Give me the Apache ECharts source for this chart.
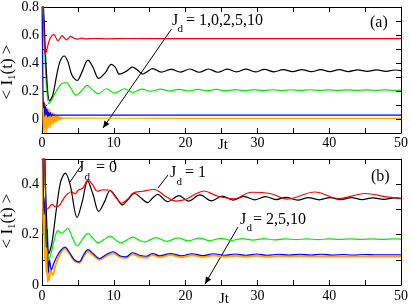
<!DOCTYPE html>
<html><head><meta charset="utf-8">
<script src="https://cdn.jsdelivr.net/npm/echarts@6/dist/echarts.min.js"></script>
<style>html,body{margin:0;padding:0;background:#fff}#c{width:411px;height:306px}</style>
</head><body><div id="c"></div>
<script>
// ---------- data (t = Jt, value = <I1(t)>) ----------
const xTicksLabels = [0, 10, 20, 30, 40, 50];
const aYLabels = [0, 0.2, 0.4, 0.6, 0.8];
const bYLabels = [0, 0.2, 0.4];

// panel (a)
const aRed = [[0,1.0],[0.2,0.75],[0.45,0.46],[0.7,0.5],[1.0,0.56],[1.3,0.59],[1.65,0.602],[1.95,0.58],[2.2,0.557],[2.5,0.575],[2.8,0.595],[3.1,0.58],[3.4,0.565],[3.7,0.578],[4.0,0.59],[4.4,0.578],[4.9,0.57],[5.5,0.577],[6.2,0.572],[7,0.575],[9,0.573],[12,0.575],[20,0.574],[30,0.574],[40,0.574],[50,0.574]];
const aBlack = [[0,1.0],[0.3,0.7],[0.6,0.35],[1.05,0.13],[1.5,0.17],[2.0,0.3],[2.5,0.41],[3.1,0.45],[3.6,0.41],[4.2,0.31],[4.9,0.275],[5.6,0.34],[6.4,0.42],[7.1,0.37],[7.9,0.29],[8.8,0.33],[9.65,0.39],[10.2,0.37],[10.8,0.32],[11.7,0.34],[12.6,0.37],[13.3,0.35],[14.0,0.32],[14.7,0.34],[15.4,0.36],[16.6,0.335],[18,0.355],[19.3,0.335],[20.6,0.357],[21.9,0.334],[23.2,0.357],[24.5,0.334],[25.8,0.356],[27.1,0.336],[28.4,0.356],[29.7,0.336],[31,0.354],[32.3,0.337],[33.6,0.353],[34.9,0.338],[36.2,0.353],[37.5,0.338],[38.8,0.352],[40.1,0.339],[41.4,0.352],[42.7,0.339],[44,0.351],[45.3,0.34],[46.6,0.351],[47.9,0.34],[49.2,0.35],[50,0.345]];
const aGreen = [[0,1.0],[0.3,0.6],[0.6,0.25],[0.97,0.11],[1.4,0.14],[2.0,0.2],[2.7,0.25],[3.4,0.26],[4.0,0.22],[4.75,0.17],[5.5,0.2],[6.3,0.24],[7.0,0.21],[7.85,0.18],[8.96,0.216],[10.1,0.185],[11.5,0.216],[12.65,0.19],[13.9,0.213],[15.2,0.198],[16.5,0.213],[17.8,0.2],[19.1,0.212],[20.4,0.2],[21.7,0.211],[23,0.201],[24.3,0.211],[25.6,0.202],[26.9,0.21],[28.2,0.202],[29.5,0.21],[30.8,0.203],[32.1,0.209],[33.4,0.203],[34.7,0.209],[36,0.204],[37.3,0.209],[38.6,0.204],[39.9,0.208],[41.2,0.204],[42.5,0.208],[43.8,0.205],[45.1,0.208],[46.4,0.205],[47.7,0.208],[49,0.205],[50,0.206]];
const aBlue = [[0,1.0],[0.1,0.4],[0.2,0.08],[0.3,0.12],[0.4,0.02],[0.5,0.09],[0.6,0.03],[0.7,0.07],[0.8,0.015],[0.9,0.05],[1.0,0.02],[1.15,0.045],[1.3,0.02],[1.45,0.035],[1.6,0.025],[1.8,0.03],[2.0,0.027],[2.5,0.028],[10,0.028],[30,0.028],[50,0.028]];
const aOrange = [[0,1.0],[0.05,0.4],[0.1,0.11],[0.2,-0.09],[0.3,0.12],[0.4,-0.1],[0.5,0.11],[0.6,-0.1],[0.7,0.08],[0.8,-0.07],[0.9,0.075],[1.0,-0.065],[1.1,0.07],[1.2,-0.06],[1.3,0.05],[1.4,-0.04],[1.5,0.048],[1.6,-0.035],[1.7,0.04],[1.8,-0.03],[1.9,0.03],[2.0,-0.02],[2.1,0.028],[2.2,-0.015],[2.3,0.022],[2.4,-0.01],[2.5,0.016],[2.6,-0.004],[2.7,0.012],[2.8,0.0],[2.9,0.009],[3.0,0.003],[3.3,0.006],[20,0.005],[50,0.005]];

// panel (b)
const bRed = [[0,1.0],[0.3,0.6],[0.65,0.30],[0.9,0.305],[1.4,0.32],[1.9,0.31],[2.4,0.315],[2.95,0.34],[3.5,0.36],[4.1,0.37],[4.6,0.362],[5.0,0.375],[5.7,0.385],[6.4,0.416],[7.1,0.395],[7.7,0.372],[8.5,0.378],[9.4,0.376],[10.2,0.35],[11.1,0.325],[11.9,0.34],[12.7,0.365],[14.0,0.372],[15.6,0.379],[17.3,0.35],[18.6,0.333],[20.0,0.34],[21.5,0.363],[22.6,0.373],[24.4,0.353],[26.7,0.342],[29.2,0.368],[31.8,0.363],[34.2,0.341],[38.0,0.369],[41.3,0.343],[45.0,0.363],[48,0.35],[50,0.344]];
const bBlack = [[0,1.0],[0.3,0.6],[0.6,0.3],[0.95,0.124],[1.4,0.17],[2.0,0.3],[2.6,0.41],[3.25,0.444],[3.9,0.4],[4.9,0.268],[5.6,0.33],[6.35,0.412],[7.1,0.36],[7.9,0.292],[8.7,0.33],[9.5,0.375],[10.3,0.35],[11.2,0.318],[12.0,0.34],[12.9,0.363],[13.8,0.345],[14.7,0.327],[15.4,0.345],[16.1,0.36],[17.5,0.331],[19.1,0.355],[20.4,0.333],[22.0,0.358],[23.6,0.334],[25.1,0.353],[26.6,0.337],[28.1,0.352],[29.6,0.338],[31.1,0.351],[32.6,0.339],[34.0,0.348],[35.6,0.337],[37.1,0.347],[38.6,0.338],[40.1,0.347],[41.6,0.339],[43.1,0.347],[44.6,0.339],[46.1,0.346],[47.6,0.34],[49.1,0.346],[50,0.343]];
const bGreen = [[0,1.0],[0.3,0.6],[0.6,0.25],[0.95,0.1],[1.3,0.13],[1.8,0.19],[2.2,0.216],[2.7,0.205],[3.6,0.224],[4.2,0.19],[4.9,0.155],[5.6,0.18],[6.4,0.205],[7.1,0.185],[7.8,0.168],[8.6,0.18],[9.5,0.194],[10.3,0.178],[11.0,0.167],[11.8,0.178],[12.65,0.19],[13.5,0.178],[14.3,0.17],[15.1,0.18],[15.9,0.188],[17.4,0.173],[18.9,0.187],[20.4,0.175],[21.9,0.186],[23.4,0.176],[24.9,0.185],[26.4,0.177],[27.9,0.184],[29.4,0.178],[30.9,0.184],[32.4,0.179],[33.9,0.183],[35.4,0.18],[36.9,0.183],[38.4,0.18],[39.9,0.183],[41.4,0.181],[42.9,0.183],[44.4,0.181],[45.9,0.183],[47.4,0.181],[48.9,0.183],[50,0.182]];
const bBlue = [[0,1.0],[0.15,0.5],[0.3,0.28],[0.45,0.35],[0.6,0.15],[0.75,0.22],[0.9,0.05],[1.05,0.1],[1.3,0.06],[1.7,0.09],[2.2,0.12],[2.7,0.14],[3.2,0.15],[3.8,0.13],[4.5,0.1],[5.2,0.092],[5.8,0.12],[6.4,0.14],[7.1,0.125],[8.0,0.105],[8.9,0.12],[9.9,0.132],[10.9,0.115],[11.7,0.112],[12.6,0.128],[13.6,0.118],[14.5,0.114],[15.4,0.125],[16.4,0.116],[17.9,0.125],[19.4,0.116],[20.9,0.124],[22.4,0.117],[23.9,0.124],[25.4,0.118],[26.9,0.123],[28.4,0.118],[29.9,0.123],[31.4,0.118],[32.9,0.122],[34.4,0.119],[35.9,0.122],[37.4,0.119],[38.9,0.122],[40.4,0.119],[41.9,0.121],[43.4,0.119],[44.9,0.121],[46.4,0.12],[50,0.12]];
const bOrange = [[0,1.0],[0.1,0.5],[0.2,0.2],[0.3,0.3],[0.4,0.1],[0.5,0.22],[0.6,0.05],[0.7,0.13],[0.8,0.013],[0.9,0.06],[1.0,0.02],[1.2,0.06],[1.5,0.04],[1.9,0.08],[2.3,0.11],[2.8,0.135],[3.2,0.145],[3.8,0.125],[4.5,0.097],[5.2,0.088],[5.8,0.113],[6.4,0.133],[7.1,0.118],[8.0,0.1],[8.9,0.114],[9.9,0.126],[10.9,0.11],[11.7,0.107],[12.6,0.122],[13.6,0.112],[14.5,0.108],[15.4,0.119],[16.4,0.11],[17.9,0.119],[19.4,0.11],[20.9,0.118],[22.4,0.111],[23.9,0.117],[25.4,0.112],[26.9,0.116],[28.4,0.112],[29.9,0.116],[31.4,0.112],[32.9,0.115],[34.4,0.113],[35.9,0.115],[37.4,0.113],[40,0.114],[45,0.113],[50,0.113]];

// ---------- chart ----------
const FONT = '"Liberation Serif","DejaVu Serif",serif';
const COL = {red:'#ff0000', black:'#000000', green:'#00ee00', blue:'#0000ff', orange:'#ffa500'};

function xAxes(gi){
  const common = {type:'value', gridIndex:gi, min:0, max:50, interval:5,
    axisLine:{show:true, onZero:false, lineStyle:{color:'#000', width:1}},
    axisTick:{show:true, inside:true, length:5, lineStyle:{color:'#000'}},
    splitLine:{show:false}};
  return [
    Object.assign({}, common, {position:'bottom',
      axisLabel:{show:true, margin: gi===0?3:4, fontFamily:FONT, fontSize:14, color:'#000',
        formatter: v => xTicksLabels.indexOf(Math.round(v))>=0 && Math.abs(v-Math.round(v))<1e-6 ? String(Math.round(v)) : ''}}),
    Object.assign({}, common, {position:'top', axisLabel:{show:false}})
  ];
}
function yAxes(gi, min, max, labels){
  const common = {type:'value', gridIndex:gi, min:min, max:max, interval:0.1,
    axisLine:{show:true, onZero:false, lineStyle:{color:'#000', width:1}},
    axisTick:{show:true, inside:true, length:5, lineStyle:{color:'#000'}},
    splitLine:{show:false}};
  return [
    Object.assign({}, common, {position:'left',
      axisLabel:{show:true, margin: 3, fontFamily:FONT, fontSize:14, color:'#000',
        formatter: v => { const k = Math.round(v*10); const val = k/10;
          const hit = labels.some(l => Math.abs(l-val)<1e-6);
          return hit ? (k===0 ? '0' : val.toFixed(1)) : ''; }}}),
    Object.assign({}, common, {position:'right', axisLabel:{show:false}})
  ];
}
function line(name, data, color, xi, yi, w){
  return {type:'line', name, data, xAxisIndex:xi, yAxisIndex:yi, showSymbol:false, symbol:'none',
    smooth:0.35, clip:true, animation:false, lineStyle:{color, width:w||1.2}};
}

const chart = echarts.init(document.getElementById('c'), null, {renderer:'canvas'});

function txt(x, y, s, size, align){
  return {type:'text', x, y, silent:true,
    style:{text:s, fontFamily:FONT, fontSize:size, fill:'#000', align:align||'left', verticalAlign:'middle'}};
}
function arrow(x1,y1,x2,y2,head){
  const els = [{type:'line', shape:{x1,y1,x2,y2}, style:{stroke:'#000', lineWidth:1}, silent:true}];
  if(head){
    const a = Math.atan2(y2-y1, x2-x1), L=7, W=3;
    const bx = x2 - L*Math.cos(a), by = y2 - L*Math.sin(a);
    els.push({type:'polygon', silent:true, shape:{points:[[x2,y2],[bx + W*Math.sin(a), by - W*Math.cos(a)],[bx - W*Math.sin(a), by + W*Math.cos(a)]]}, style:{fill:'#000'}});
  }
  return els;
}
function yname(cx, cy){
  return {type:'text', x:cx, y:cy, rotation:Math.PI/2, silent:true,
    style:{text:'{m|< I}{s|1}{m|(t) >}', fontFamily:FONT, align:'center', verticalAlign:'middle',
      rich:{m:{fontFamily:FONT, fontSize:17, fill:'#000'}, s:{fontFamily:FONT, fontSize:11, fill:'#000', padding:[9,0,0,0]}}}};
}

const graphics = [].concat(
  [txt(172, 21, 'J', 16), txt(177.5, 29.5, 'd', 11), txt(186, 21, '= 1,0,2,5,10', 16)],
  arrow(171.5, 29, 103, 128, true),
  [txt(370, 23, '(a)', 16)],
  [txt(78, 168, 'J', 16), txt(84.5, 177.5, 'd', 11), txt(96, 168, '= 0', 16)],
  arrow(81, 166, 70, 182, false),
  [txt(170, 173, 'J', 16), txt(176.5, 182.5, 'd', 11), txt(185, 173, '= 1', 16)],
  arrow(168, 175, 158, 188, false),
  [txt(240, 220, 'J', 16), txt(246.5, 228.5, 'd', 11), txt(253, 220, '= 2,5,10', 16)],
  arrow(238, 227, 205, 284, true),
  [txt(371, 176.5, '(b)', 16)],
  [txt(223, 145, 'Jt', 15, 'center'), txt(224, 299, 'Jt', 15, 'center')],
  [yname(8, 72), yname(8, 221)]
);

chart.setOption({
  backgroundColor:'#fff',
  animation:false,
  grid:[
    {left:42, top:5, width:361, height:128},
    {left:42, top:159, width:361, height:126}
  ],
  xAxis:[].concat(xAxes(0), xAxes(1)),
  yAxis:[].concat(yAxes(0, -0.1, 0.8, aYLabels), yAxes(1, 0, 0.5, bYLabels)),
  series:[
    line('a10', aOrange, COL.orange, 0, 0, 1.2),
    line('a5', aBlue, COL.blue, 0, 0),
    line('a2', aGreen, COL.green, 0, 0),
    line('a0', aBlack, COL.black, 0, 0),
    line('a1', aRed, COL.red, 0, 0),
    line('b10', bOrange, COL.orange, 2, 2, 2),
    line('b5', bBlue, COL.blue, 2, 2),
    line('b2', bGreen, COL.green, 2, 2),
    line('b0', bBlack, COL.black, 2, 2),
    line('b1', bRed, COL.red, 2, 2)
  ],
  graphic: graphics
});
</script></body></html>
